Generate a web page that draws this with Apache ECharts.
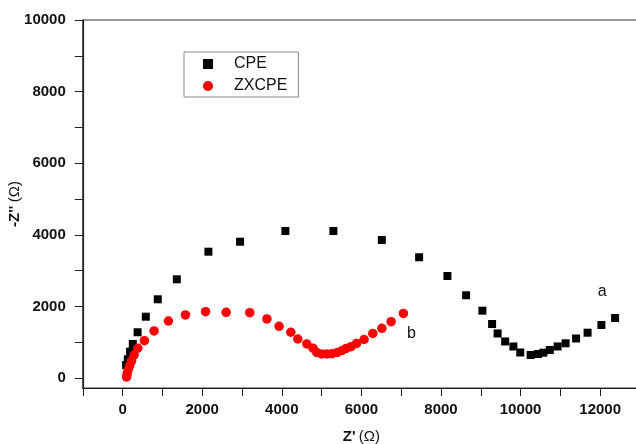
<!DOCTYPE html>
<html><head><meta charset="utf-8">
<script src="https://cdn.jsdelivr.net/npm/echarts@6/dist/echarts.min.js"></script>
<style>html,body{margin:0;padding:0;background:#fff}#c{width:636px;height:444px}</style>
</head><body><div id="c"></div>
<script>
// CPE (curve a)
const cpeX = [88,131,188,256,377,583,884,1362,2156,2952,4090,5296,6513,7450,8161,8631,9040,9284,9422,9611,9819,9992,10251,10435,10573,10734,10930,11131,11394,11683,12030,12374];
const cpeY = [363,522,735,950,1277,1712,2198,2757,3528,3807,4106,4106,3855,3372,2849,2310,1880,1508,1243,1020,880,712,642,670,707,782,880,969,1103,1265,1480,1676];
// ZXCPE (curve b)
const zxX = [101,113,138,176,226,289,382,548,791,1151,1578,2085,2601,3196,3626,3932,4226,4402,4628,4786,4879,5005,5138,5264,5397,5515,5616,5741,5879,6068,6286,6515,6746,7055];
const zxY = [28,112,223,335,475,642,830,1042,1313,1592,1760,1852,1835,1824,1648,1444,1277,1089,950,830,712,670,670,679,712,768,824,874,964,1075,1243,1388,1573,1802];
const xTickLabels = [0,2000,4000,6000,8000,10000,12000];
const xTicks = [-1000,0,1000,2000,3000,4000,5000,6000,7000,8000,9000,10000,11000,12000,13000];
const yTickLabels = [0,2000,4000,6000,8000,10000];
const yTicks = [0,1000,2000,3000,4000,5000,6000,7000,8000,9000,10000];
const seriesNames = ['CPE','ZXCPE'];
const curveTags = ['a','b'];

const font = 'Liberation Sans, Arial, sans-serif';
function pts(xs, ys, tag, offset){
  return xs.map((x,i)=>{
    const d = {value:[x, ys[i]]};
    if(i === xs.length-1){
      d.label = {show:true, formatter:tag, offset:offset, color:'#111', fontSize:16, fontFamily:font};
    }
    return d;
  });
}

const chart = echarts.init(document.getElementById('c'));
chart.setOption({
  animation:false,
  backgroundColor:'#fff',
  grid:{left:82.8, top:20, width:557.2, height:368, show:true, borderColor:'#333', borderWidth:1.2,
        backgroundColor:'transparent', containLabel:false, outerBoundsMode:'none'},
  legend:{
    orient:'vertical', left:184, top:52,
    padding:[4,11,3,19],
    itemWidth:10, itemHeight:10, itemGap:6,
    borderColor:'#888', borderWidth:1,
    textStyle:{fontSize:16, fontFamily:font, color:'#111', lineHeight:14, padding:[0,0,0,16]},
    data:[{name:seriesNames[0], icon:'path://M0 0H10V10H0Z', itemStyle:{color:'#000', opacity:1}},
          {name:seriesNames[1], icon:'circle', itemStyle:{color:'#ff0000', opacity:1}}]
  },
  xAxis:{
    type:'value', min:-1000, max:13000, interval:1000,
    splitLine:{show:false},
    axisLine:{onZero:false, lineStyle:{color:'#222', width:1.2}},
    axisTick:{length:8, lineStyle:{color:'#222'}, customValues:xTicks},
    axisLabel:{customValues:xTickLabels, formatter:v=>String(v), fontSize:15, fontWeight:'bold', fontFamily:font, color:'#111', margin:14},
    name:"{b|Z'} {n|(Ω)}", nameLocation:'middle', nameGap:41, nameMoveOverlap:false,
    nameTextStyle:{rich:{b:{fontSize:15, fontWeight:'bold', fontFamily:font, color:'#111'}, n:{fontSize:15, fontFamily:font, color:'#111'}}}
  },
  yAxis:{
    type:'value', min:-280, max:10000,
    splitLine:{show:false},
    axisLine:{onZero:false, lineStyle:{color:'#222', width:1.2}},
    axisTick:{length:8, lineStyle:{color:'#222'}, customValues:yTicks},
    axisLabel:{customValues:yTickLabels, formatter:v=>String(v), fontSize:15, fontWeight:'bold', fontFamily:font, color:'#111', margin:17},
    name:"{b|-Z''} {n|(Ω)}", nameLocation:'middle', nameGap:60, nameRotate:90, nameMoveOverlap:false,
    nameTextStyle:{rich:{b:{fontSize:15, fontWeight:'bold', fontFamily:font, color:'#111'}, n:{fontSize:15, fontFamily:font, color:'#111'}}}
  },
  series:[
    {name:seriesNames[0], type:'scatter', symbol:'rect', symbolSize:8, itemStyle:{color:'#000', opacity:1},
     data:pts(cpeX, cpeY, curveTags[0], [-13,-26]), z:2},
    {name:seriesNames[1], type:'scatter', symbol:'circle', symbolSize:9.5, itemStyle:{color:'#ff0000', opacity:1},
     data:pts(zxX, zxY, curveTags[1], [8,20]), z:3}
  ]
});
</script></body></html>
